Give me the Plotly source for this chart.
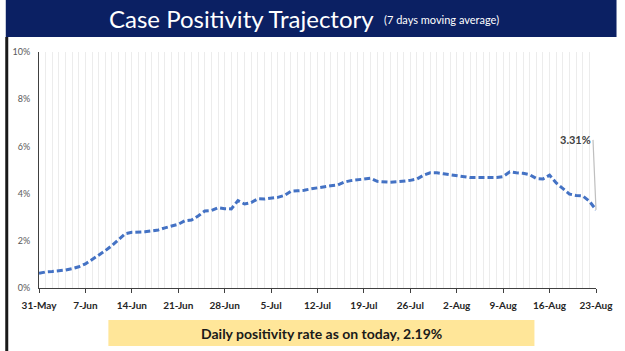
import pandas as pd
import plotly.graph_objects as go

start_date = "2020-05-31"
positivity = [
    0.62, 0.68, 0.70, 0.72, 0.76, 0.82, 0.90,
    1.02, 1.20, 1.38, 1.58, 1.80, 2.05, 2.30,
    2.36, 2.36, 2.38, 2.42, 2.46, 2.55, 2.64,
    2.70, 2.85, 2.88, 3.05, 3.26, 3.28, 3.40,
    3.36, 3.35, 3.70, 3.56, 3.62, 3.78, 3.77,
    3.80, 3.84, 3.92, 4.10, 4.12, 4.14, 4.20,
    4.25, 4.30, 4.33, 4.36, 4.48, 4.55, 4.58,
    4.62, 4.65, 4.52, 4.50, 4.48, 4.50, 4.52,
    4.56, 4.62, 4.78, 4.88, 4.88, 4.84, 4.80,
    4.78, 4.72, 4.68, 4.68, 4.68, 4.68, 4.68,
    4.72, 4.92, 4.88, 4.86, 4.80, 4.64, 4.62,
    4.78, 4.45, 4.22, 3.98, 3.92, 3.90, 3.68,
    3.31,
]
dates = pd.date_range(start_date, periods=len(positivity), freq="D")
y_ticks = [0, 2, 4, 6, 8, 10]
y_tick_labels = ["0%", "2%", "4%", "6%", "8%", "10%"]
title_main = "Case Positivity Trajectory"
title_sub = "(7 days moving average)"
footer_text = "Daily positivity rate as on today, 2.19%"
last_label = "3.31%"

PW, PH = 570, 236  # plot area size in px


def px(xp):
    return (xp - 34) / PW


def py(yp):
    return (288 - yp) / PH


fig = go.Figure()
fig.add_trace(go.Scatter(
    x=dates, y=positivity, mode="lines",
    line=dict(color="#4472C4", width=3, dash="6px,3px"),
    hoverinfo="skip", showlegend=False,
))

fig.update_layout(
    width=625, height=351,
    margin=dict(l=34, r=21, t=52, b=63),
    paper_bgcolor="white", plot_bgcolor="white",
    font=dict(family="Lato", color="#262626"),
    xaxis=dict(
        range=[dates[0], dates[-1]],
        tickvals=list(dates[::7]),
        tickformat="%-d-%b",
        tickfont=dict(family="Lato", size=10, color="#262626", weight="bold"),
        ticks="outside", ticklen=4, tickcolor="#404040",
        ticklabelstandoff=4,
        showline=True, linecolor="#404040", linewidth=1.2,
        showgrid=True, gridcolor="#ececec", gridwidth=1,
        minor=dict(dtick=86400000, showgrid=True, gridcolor="#ececec", gridwidth=1),
        zeroline=False, fixedrange=True,
    ),
    yaxis=dict(
        range=[0, 10],
        tickvals=y_ticks, ticktext=y_tick_labels,
        tickfont=dict(family="Lato", size=9, color="#595959"),
        ticks="", ticklabelstandoff=6,
        showline=True, linecolor="#404040", linewidth=1.2,
        showgrid=False, zeroline=False, fixedrange=True,
    ),
    shapes=[
        dict(type="rect", xref="paper", yref="paper", x0=px(0), x1=px(625),
             y0=py(37), y1=py(0), fillcolor="#0b2063", line_width=0, layer="below"),
        dict(type="rect", xref="paper", yref="paper",
             x0=px(105), x1=px(541), y0=py(346), y1=py(320),
             fillcolor="#FFE699", line_width=0, layer="below"),
        dict(type="line", xref="paper", yref="paper",
             x0=px(1), x1=px(1), y0=py(351), y1=py(37),
             line=dict(color="#1a1a1a", width=3)),
    ],
    annotations=[
        dict(xref="paper", yref="paper", x=px(379), y=py(19),
             xanchor="right", yanchor="middle", showarrow=False,
             text=title_main, font=dict(family="Lato", size=24, color="white")),
        dict(xref="paper", yref="paper", x=px(385), y=py(20),
             xanchor="left", yanchor="middle", showarrow=False,
             text=title_sub, font=dict(family="Lato", size=11, color="white")),
        dict(xref="paper", yref="paper", x=px(323), y=py(333),
             xanchor="center", yanchor="middle", showarrow=False,
             text="<b>" + footer_text + "</b>", font=dict(family="Lato", size=14, color="#1a1a1a")),
        dict(x=dates[-1], y=positivity[-1], text="<b>" + last_label + "</b>",
             showarrow=True, arrowhead=0, arrowwidth=1.2, arrowcolor="#bfbfbf",
             ax=-3, ay=-70, xanchor="right", yanchor="middle", standoff=0,
             font=dict(family="Lato", size=11, color="#404040")),
        dict(xref="paper", yref="y", x=0, y=10.15, ax=0, ay=12, text="",
             showarrow=True, arrowhead=2, arrowsize=1, arrowwidth=1.2, arrowcolor="#404040"),
    ],
)

fig.write_html("out.html")
